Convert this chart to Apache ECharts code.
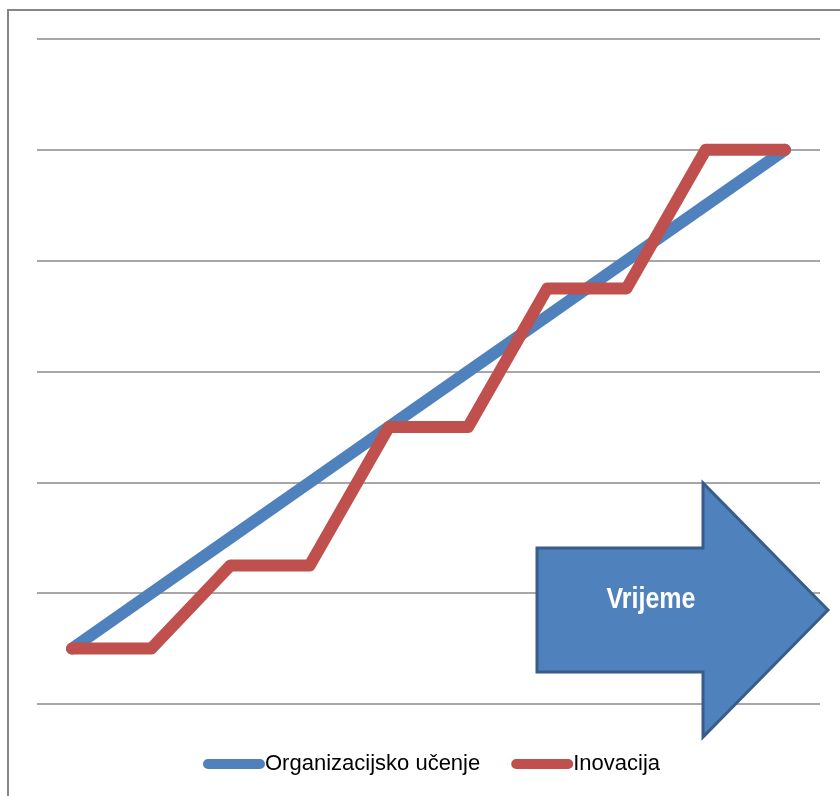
<!DOCTYPE html>
<html>
<head>
<meta charset="utf-8">
<script src="https://cdn.jsdelivr.net/npm/echarts@6/dist/echarts.min.js"></script>
<style>html,body{margin:0;padding:0;background:#fff;}#main{width:840px;height:796px;}</style>
</head>
<body>
<div id="main"></div>
<script>
// time steps (no visible labels)
var timePoints = [0, 1, 2, 3, 4, 5, 6, 7, 8, 9];
var seriesNames = ['Organizacijsko učenje', 'Inovacija'];
var learningValues = [0.5, 1.0, 1.5, 2.0, 2.5, 3.0, 3.5, 4.0, 4.5, 5.0];
var innovationValues = [0.5, 0.5, 1.25, 1.25, 2.5, 2.5, 3.75, 3.75, 5.0, 5.0];
var yTicks = [0, 1, 2, 3, 4, 5, 6];
var arrowLabel = 'Vrijeme';

function pairs(xs, ys) { return xs.map(function (x, i) { return [x, ys[i]]; }); }

var chart = echarts.init(document.getElementById('main'));
var capsule = 'path://M5,0 L57,0 A5,5 0 0 1 57,10 L5,10 A5,5 0 0 1 5,0 Z';
chart.setOption({
  animation: false,
  grid: { left: 37, right: 20, top: 39, bottom: 92 },
  xAxis: {
    type: 'value', min: -0.442, max: 9.442,
    show: true, axisLine: { show: false }, axisTick: { show: false },
    axisLabel: { show: false }, splitLine: { show: false }
  },
  yAxis: {
    type: 'value', min: yTicks[0], max: yTicks[yTicks.length - 1], interval: 1,
    axisLine: { show: false }, axisTick: { show: false }, axisLabel: { show: false },
    splitLine: { lineStyle: { color: '#8a8a8a', width: 1.5 } }
  },
  legend: {
    bottom: 16, left: 198, itemGap: 31, itemWidth: 62, itemHeight: 10,
    textStyle: { fontFamily: 'Liberation Sans, Arial, sans-serif', fontSize: 22, color: '#000', padding: [0, 0, 0, -5] },
    data: [
      { name: seriesNames[0], icon: capsule, itemStyle: { color: '#4F81BD' } },
      { name: seriesNames[1], icon: capsule, itemStyle: { color: '#C0504D' } }
    ]
  },
  series: [
    {
      name: seriesNames[0], type: 'line', data: pairs(timePoints, learningValues),
      showSymbol: false, symbol: 'none', z: 2,
      lineStyle: { color: '#4F81BD', width: 12, cap: 'round', join: 'round' },
      itemStyle: { color: '#4F81BD' }
    },
    {
      name: seriesNames[1], type: 'line', data: pairs(timePoints, innovationValues),
      showSymbol: false, symbol: 'none', z: 3,
      lineStyle: { color: '#C0504D', width: 12, cap: 'round', join: 'round' },
      itemStyle: { color: '#C0504D' }
    }
  ],
  graphic: [
    { type: 'rect', z: 0, silent: true, shape: { x: 8, y: 10, width: 1000, height: 1000 },
      style: { fill: 'none', stroke: '#868686', lineWidth: 2 } },
    { type: 'polygon', z: 10, silent: true,
      shape: { points: [[537, 548], [703, 548], [703, 483], [828, 610], [703, 737], [703, 672], [537, 672]] },
      style: { fill: '#4F81BD', stroke: '#385D8A', lineWidth: 3 } },
    { type: 'text', z: 11, silent: true, x: 651, y: 600, scaleY: 1.2,
      style: { text: arrowLabel, x: 0, y: 0, textAlign: 'center', textVerticalAlign: 'middle',
        fill: '#fff', font: 'bold 25px "Liberation Sans", Arial, sans-serif' } }
  ]
});
</script>
</body>
</html>
